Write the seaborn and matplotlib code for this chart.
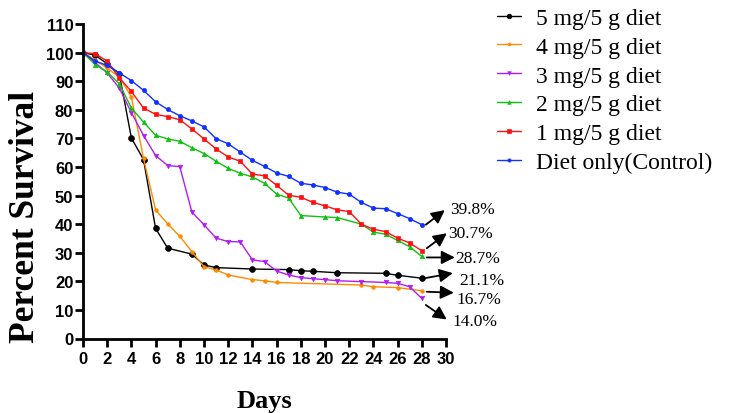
import pandas as pd
import matplotlib.pyplot as plt
import seaborn as sns
from matplotlib.transforms import offset_copy

# Survival data (percent survival per day)
groups = ["5 mg/5 g diet", "4 mg/5 g diet", "3 mg/5 g diet",
          "2 mg/5 g diet", "1 mg/5 g diet", "Diet only(Control)"]

days_5mg = [0, 1, 2, 3, 4, 5, 6, 7, 9, 10, 11, 14, 17, 18, 19, 21, 25, 26, 28]
surv_5mg = [100, 99.1, 96.1, 92.6, 70.1, 62.6, 38.5, 31.6, 29.5, 25.7, 24.8,
            24.3, 24.1, 23.7, 23.5, 23.0, 22.8, 22.1, 21.1]

days_4mg = [0, 1, 2, 3, 4, 5, 6, 7, 8, 9, 10, 11, 12, 14, 15, 16, 23, 24, 26, 28]
surv_4mg = [100, 97.5, 94.5, 91.5, 84.5, 63.0, 45.0, 40.1, 35.7, 30.4, 25.1,
            24.0, 22.2, 20.6, 20.2, 19.6, 18.7, 18.1, 17.8, 16.7]

days_3mg = [0, 1, 2, 3, 4, 5, 6, 7, 8, 9, 10, 11, 12, 13, 14, 15, 16, 17, 18,
            19, 20, 21, 23, 25, 26, 27, 28]
surv_3mg = [100, 96.5, 92.9, 87.6, 79.0, 71.0, 64.0, 60.5, 60.1, 44.2, 39.8,
            35.1, 33.9, 33.8, 27.5, 26.9, 23.6, 22.2, 21.3, 20.9, 20.6, 20.2,
            19.9, 19.6, 19.3, 18.1, 14.0]

days_2mg = [0, 1, 2, 3, 4, 5, 6, 7, 8, 9, 10, 11, 12, 13, 14, 15, 16, 17, 18,
            20, 21, 23, 24, 25, 26, 27, 28]
surv_2mg = [100, 95.8, 93.2, 89.1, 80.6, 75.7, 71.1, 69.8, 69.0, 66.7, 64.7,
            62.0, 59.5, 57.8, 56.5, 54.3, 50.5, 49.1, 43.0, 42.5, 42.3, 40.0,
            37.2, 36.5, 34.3, 32.1, 28.7]

days_1mg = list(range(29))
surv_1mg = [100, 99.6, 97.0, 91.2, 86.4, 80.6, 78.4, 77.6, 76.5, 73.3, 69.8,
            66.3, 63.5, 62.0, 57.5, 56.9, 53.6, 50.1, 49.4, 47.6, 46.4, 45.0,
            44.4, 40.0, 38.2, 37.4, 35.1, 33.4, 30.7]

days_ctrl = list(range(29))
surv_ctrl = [100, 97.0, 95.5, 92.9, 90.2, 86.8, 82.8, 80.1, 77.9, 76.1, 74.0,
             69.9, 68.1, 65.2, 62.3, 60.2, 57.9, 56.7, 54.3, 53.7, 52.8, 51.2,
             50.5, 47.6, 45.6, 45.4, 43.7, 41.9, 39.8]

all_days = [days_5mg, days_4mg, days_3mg, days_2mg, days_1mg, days_ctrl]
all_surv = [surv_5mg, surv_4mg, surv_3mg, surv_2mg, surv_1mg, surv_ctrl]

colors = ["black", "#FF8A00", "#B21CF0", "#10C010", "#FF1010", "#1030FF"]
markers = ["o", "o", "v", "^", "s", "o"]
msizes = [4.2, 2.6, 3.2, 3.2, 3.4, 3.0]

# label arrow offsets in pixels from the last point: (tail, head, text)
label_offsets = [
    ((3, 0), (31, 5), (37, -2)),       # 5 mg
    ((5, -1), (32, -2), (35, -8.5)),   # 4 mg
    ((4, -6.5), (25, -21), (31, -23)), # 3 mg
    ((5, -1), (33, -1), (33, -1.8)),   # 2 mg
    ((5, 2.5), (25, 17.5), (26, 18)),  # 1 mg
    ((4, 0), (23, 14.6), (28, 16)),    # control
]

rows = []
for g, d, s in zip(groups, all_days, all_surv):
    for x, y in zip(d, s):
        rows.append({"Days": x, "Percent Survival": y, "Group": g})
df = pd.DataFrame(rows)

sns.set_style("ticks")
plt.rcParams["font.family"] = ["Liberation Serif", "DejaVu Serif"]
plt.rcParams["text.color"] = "black"
plt.rcParams["axes.labelcolor"] = "black"
plt.rcParams["xtick.color"] = "black"
plt.rcParams["ytick.color"] = "black"
plt.rcParams["axes.edgecolor"] = "black"

fig = plt.figure(figsize=(7.32, 4.14), dpi=100)
ax = fig.add_axes([83 / 732, 1 - 339.5 / 414, 363 / 732, 314.5 / 414])

for g, c, m, ms in zip(groups, colors, markers, msizes):
    sns.lineplot(data=df[df["Group"] == g], x="Days", y="Percent Survival",
                 color=c, marker=m, markersize=ms, markeredgewidth=0.5,
                 markeredgecolor=c, linewidth=1.0, estimator=None,
                 label=g, ax=ax)

ax.set_xlim(0, 30)
ax.set_ylim(0, 110)
ax.set_xticks(range(0, 31, 2))
ax.set_yticks(range(0, 111, 10))
for side in ["top", "right"]:
    ax.spines[side].set_visible(False)
for side in ["left", "bottom"]:
    ax.spines[side].set_linewidth(2.0)
ax.tick_params(width=2.0, length=6, direction="out")
for lab in ax.get_xticklabels() + ax.get_yticklabels():
    lab.set_fontfamily("Liberation Sans")
    lab.set_fontweight("bold")
    lab.set_fontsize(12)
ax.tick_params(axis="x", pad=3)
ax.tick_params(axis="y", pad=1)

ax.set_xlabel("Days", fontsize=19, fontweight="bold")
ax.xaxis.set_label_coords(0.5, -0.16)
ax.set_ylabel("Percent Survival", fontsize=25.5, fontweight="bold")
ax.yaxis.set_label_coords(-0.113, 0.39)

# arrows with final survival values
for d, s, (tail, head, txt) in zip(all_days, all_surv, label_offsets):
    base = (d[-1], s[-1])
    tr = offset_copy(ax.transData, fig=fig, x=head[0], y=head[1], units="dots")
    ax.annotate("", xy=base, xycoords=tr,
                xytext=(tail[0] - head[0], tail[1] - head[1]),
                textcoords="offset pixels",
                arrowprops=dict(arrowstyle="-|>", color="black", lw=1.3,
                                mutation_scale=20, shrinkA=0, shrinkB=0),
                annotation_clip=False)
    ax.annotate(f"{s[-1]:.1f}%", xy=base, xytext=txt,
                textcoords="offset pixels", fontsize=12.5, va="center",
                ha="left", annotation_clip=False)

handles, labels = ax.get_legend_handles_labels()
ax.legend(handles, labels, loc="upper left", bbox_to_anchor=(495 / 732, 1 - 6 / 414),
          bbox_transform=fig.transFigure, frameon=False, fontsize=17,
          handlelength=1.0, handletextpad=0.65, labelspacing=0.31,
          borderpad=0.1, borderaxespad=0, markerscale=0.8)

fig.savefig("out.png", dpi=100)
